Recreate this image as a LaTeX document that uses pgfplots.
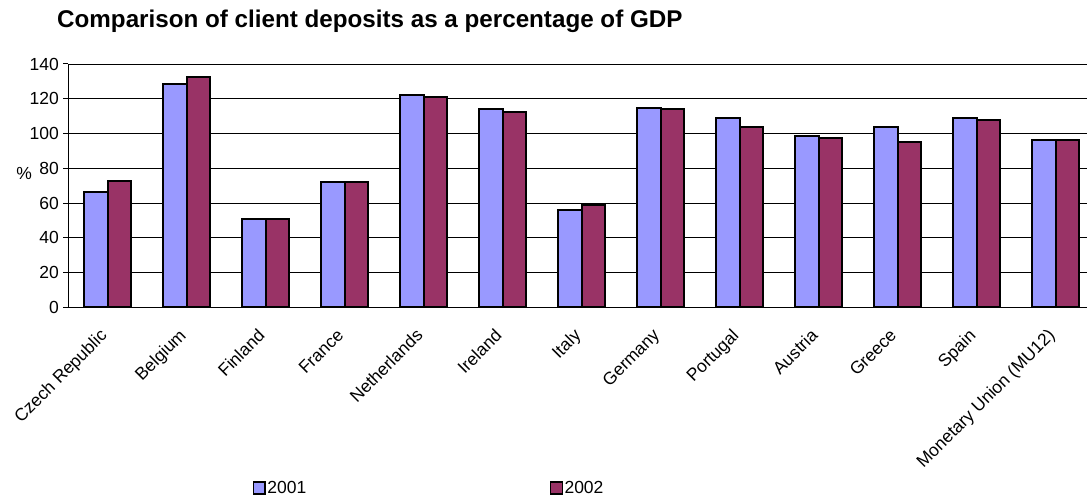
\documentclass[border=0pt]{standalone}
\usepackage{fontspec}
\setmainfont{Liberation Sans}
\usepackage{pgfplots}
\pgfplotsset{compat=1.18}
\definecolor{cA}{HTML}{9999FF}
\definecolor{cB}{HTML}{993366}
\begin{document}
\begin{tikzpicture}[x=1bp,y=1bp]
\useasboundingbox (0,0) rectangle (1087,495);
\begin{axis}[
  at={(68.3bp,187.7bp)}, anchor=south west,
  scale only axis, width=1026.7bp, height=243.3bp,
  ymin=0, ymax=140, ytick={0,20,...,140},
  xmin=-0.5, xmax=12.5,
  xtick={0,...,12},
  xticklabels={Czech Republic,Belgium,Finland,France,Netherlands,Ireland,Italy,Germany,Portugal,Austria,Greece,Spain,Monetary Union (MU12)},
  axis x line*=bottom, axis y line*=left,
  axis line style={black, line width=1.2bp},
  ymajorgrids, major grid style={black, line width=0.8bp},
  tick align=outside, major tick length=5bp, minor tick length=5bp,
  xtick style={draw=none},
  minor xtick={-0.5,0.5,...,12.5},
  minor tick style={black, line width=1bp},
  ytick style={black, line width=1bp},
  /pgf/number format/assume math mode=true,
  tick label style={font=\fontsize{17.5bp}{21bp}\selectfont, text=black},
  yticklabel style={xshift=-1bp},
  xticklabel style={rotate=45, anchor=north east, inner sep=0pt, xshift=-17bp, yshift=-4.5bp},
  ylabel={\%},
  every axis y label/.style={at={(axis description cs:-0.0431,0.552)}, anchor=center, font=\fontsize{17.5bp}{21bp}\selectfont},
  title={Comparison of client deposits as a percentage of GDP},
  title style={at={(axis description cs:-0.011,1.126)}, anchor=base west, font=\bfseries\fontsize{24.2bp}{29bp}\selectfont, inner sep=0pt},
  ybar=0pt, bar width=23.3bp,
  legend columns=2,
  legend style={at={(axis description cs:0.1796,-0.7427)}, anchor=west, draw=none, fill=none, inner sep=0pt,
    font=\fontsize{17.5bp}{21bp}\selectfont, nodes={inner sep=1.5bp},
    /tikz/every even column/.append style={column sep=242bp}},
  legend image code/.code={\draw[#1,draw=black,line width=1.5bp] (0bp,-5.8bp) rectangle (11.6bp,5.8bp);},
]
\addplot[fill=cA, draw=black, line width=2bp] coordinates {
 (0,66.3) (1,128.3) (2,50.7) (3,72) (4,122) (5,114) (6,56) (7,114.8) (8,109) (9,98.7) (10,104) (11,109) (12,96)};
\addplot[fill=cB, draw=black, line width=2bp] coordinates {
 (0,72.8) (1,132.3) (2,50.7) (3,72) (4,121) (5,112.2) (6,59) (7,114) (8,104) (9,97.2) (10,95.3) (11,108) (12,96)};
\legend{2001,2002}
\end{axis}
\end{tikzpicture}
\end{document}
